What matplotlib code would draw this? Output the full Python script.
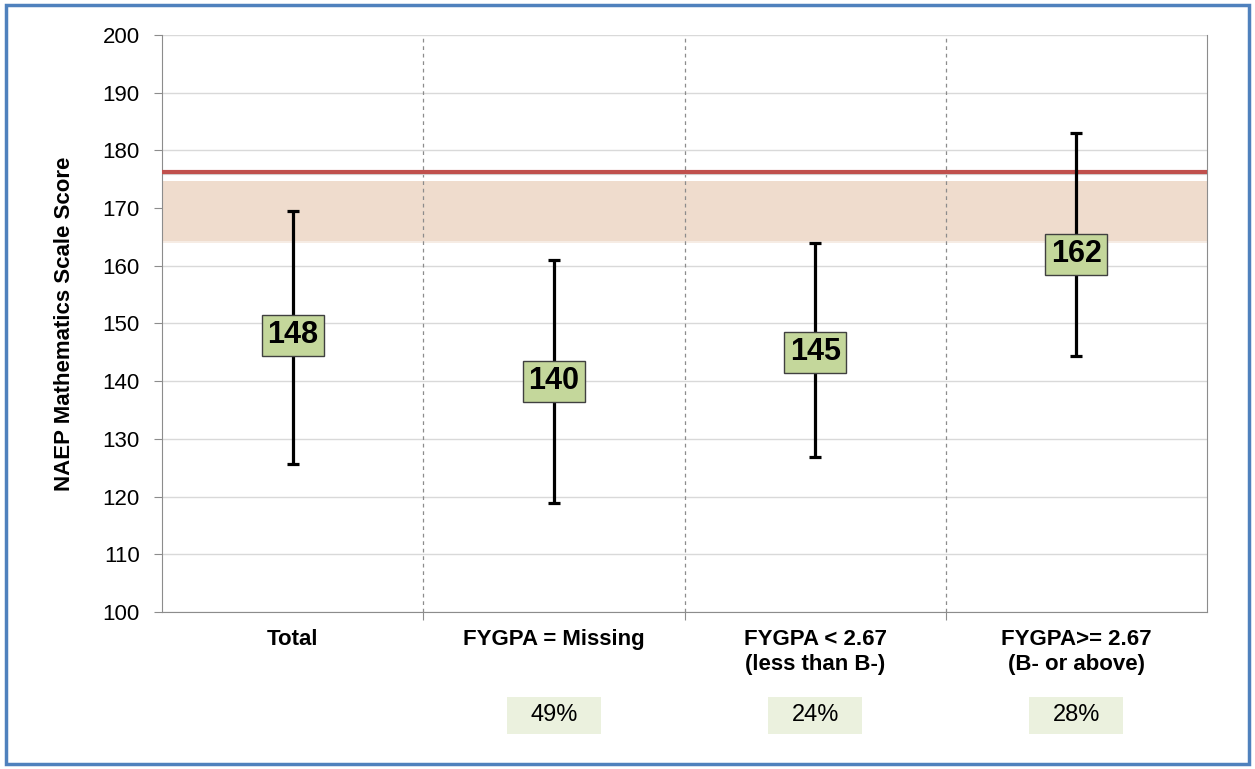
import matplotlib.pyplot as plt
import matplotlib.transforms as mtransforms
import numpy as np

plt.rcParams["font.family"] = ["Liberation Sans", "DejaVu Sans"]

categories = ["Total", "FYGPA = Missing", "FYGPA < 2.67\n(less than B-)", "FYGPA>= 2.67\n(B- or above)"]
means = [148, 140, 145, 162]
upper = [169.5, 161, 164, 183]
lower = [125.6, 118.8, 126.9, 144.4]
shares = [None, "49%", "24%", "28%"]
benchmark = 176.3
band_low, band_high = 164.3, 174.7

fig = plt.figure(figsize=(12.55, 7.69), dpi=100)
ax = fig.add_axes([0.1291, 0.2042, 0.8327, 0.7503])

x = np.arange(len(categories))
ax.set_xlim(-0.5, len(categories) - 0.5)
ax.set_ylim(100, 200)

# shaded band and benchmark line
ax.axhspan(band_low, band_high, color="#efdccd", zorder=1, lw=0)
ax.axhspan(band_low - 0.35, band_low, color="#f6ece4", zorder=1, lw=0)
ax.axhline(benchmark - 0.3, color="#d5d5d5", lw=3, zorder=2)
ax.axhline(benchmark, color="#c0504d", lw=3, zorder=3)

# error bars
means_arr = np.array(means)
ax.errorbar(x, means_arr, yerr=[means_arr - np.array(lower), np.array(upper) - means_arr],
            fmt="none", ecolor="black", elinewidth=2.3, capsize=4, capthick=2.3, zorder=4)

for xi, m in zip(x, means):
    ax.text(xi, m, str(m), ha="center", va="center", fontsize=22, fontweight="bold", zorder=5,
            bbox=dict(boxstyle="square,pad=0.18", fc="#c4d79b", ec="#404040", lw=1))

# grid and separators
ax.set_yticks(np.arange(100, 201, 10))
ax.yaxis.grid(True, color="#d9d9d9", lw=1)
ax.set_axisbelow(True)
for s in x[:-1] + 0.5:
    ax.axvline(s, color="#8c8c8c", lw=0.9, ls=(0, (3, 3)), zorder=1)

ax.set_xticks(x[:-1] + 0.5)
ax.set_xticklabels([])
ax.tick_params(axis="x", length=6, color="#8c8c8c", direction="out")
ax.tick_params(axis="y", length=6, color="#8c8c8c", labelsize=16, pad=10)
xtrans = mtransforms.blended_transform_factory(ax.transData, ax.transAxes)
for xi, c in zip(x, categories):
    ax.text(xi, -0.03, c, transform=xtrans, ha="center", va="top", fontsize=16,
            fontweight="bold", linespacing=1.22)

for sp in ["left", "bottom", "right"]:
    ax.spines[sp].set_color("#8c8c8c")
ax.spines["top"].set_visible(False)

ax.set_ylabel("NAEP Mathematics Scale Score", fontsize=16, fontweight="bold", labelpad=20)

# share boxes under categories
trans = mtransforms.blended_transform_factory(ax.transData, fig.transFigure)
box_w = 0.36
box_h = 0.048
for xi, s in zip(x, shares):
    if s is None:
        continue
    fig.patches.append(plt.Rectangle((xi - box_w / 2, 0.0696 - box_h / 2), box_w, box_h,
                                     transform=trans, fc="#ebf1de", ec="none"))
    fig.text(xi, 0.0696, s, transform=trans, ha="center", va="center", fontsize=17)

# outer frame
fig.patches.append(plt.Rectangle((0.005, 0.007), 0.99, 0.986, transform=fig.transFigure,
                                 fill=False, ec="#4f81bd", lw=2.5))

plt.savefig("out.png")
plt.close()
